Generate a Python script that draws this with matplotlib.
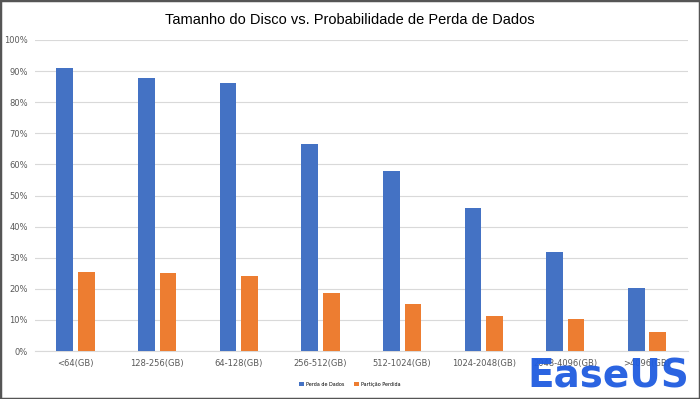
import numpy as np
import matplotlib.pyplot as plt
from matplotlib.patches import Rectangle

categories = ["<64(GB)", "128-256(GB)", "64-128(GB)", "256-512(GB)",
              "512-1024(GB)", "1024-2048(GB)", "2048-4096(GB)", ">4096(GB)"]
perda_dados = [91, 87.7, 86.1, 66.5, 57.8, 45.9, 31.7, 20.4]
particao_perdida = [25.3, 25.0, 24.0, 18.6, 15.2, 11.4, 10.2, 6.0]

blue = "#4472c4"
orange = "#ed7d31"

fig = plt.figure(figsize=(7, 3.99), dpi=100)
ax = fig.add_axes([0.0496, 0.12, 0.933, 0.78])

x = np.arange(len(categories))
w = 0.204
ax.bar(x - 0.132, perda_dados, w, color=blue, label="Perda de Dados", zorder=3)
ax.bar(x + 0.132, particao_perdida, w, color=orange, label="Partição Perdida", zorder=3)

ax.set_xlim(-0.5, len(categories) - 0.5)
ax.set_ylim(0, 100)
ax.set_yticks(range(0, 101, 10))
ax.set_yticklabels([f"{v}%" for v in range(0, 101, 10)])
ax.set_xticks(x)
ax.set_xticklabels(categories)
ax.tick_params(axis="both", length=0, labelsize=6, colors="#595959", pad=6)
ax.tick_params(axis="y", pad=5)
ax.grid(axis="y", color="#d9d9d9", linewidth=0.8, zorder=0)
for s in ["top", "right", "left"]:
    ax.spines[s].set_visible(False)
ax.spines["bottom"].set_color("#d9d9d9")

fig.suptitle("Tamanho do Disco vs. Probabilidade de Perda de Dados",
             y=0.968, fontsize=10.5, color="#000000", family="Liberation Sans")

fig.legend(loc="lower center", bbox_to_anchor=(0.5, 0.02), ncol=2, frameon=False,
           fontsize=3.5, handlelength=0.9, handleheight=0.9, columnspacing=2,
           handletextpad=0.5)

# watermark
fig.text(0.985, 0.01, "EaseUS", fontsize=28, fontweight="bold", color="#1f5ce0",
         ha="right", va="bottom", alpha=0.95, zorder=10)

fig.patches.append(Rectangle((0, 0), 1, 1, transform=fig.transFigure, fill=False,
                             edgecolor="#555555", linewidth=2.5, zorder=20))

fig.savefig("out.png", dpi=100)
